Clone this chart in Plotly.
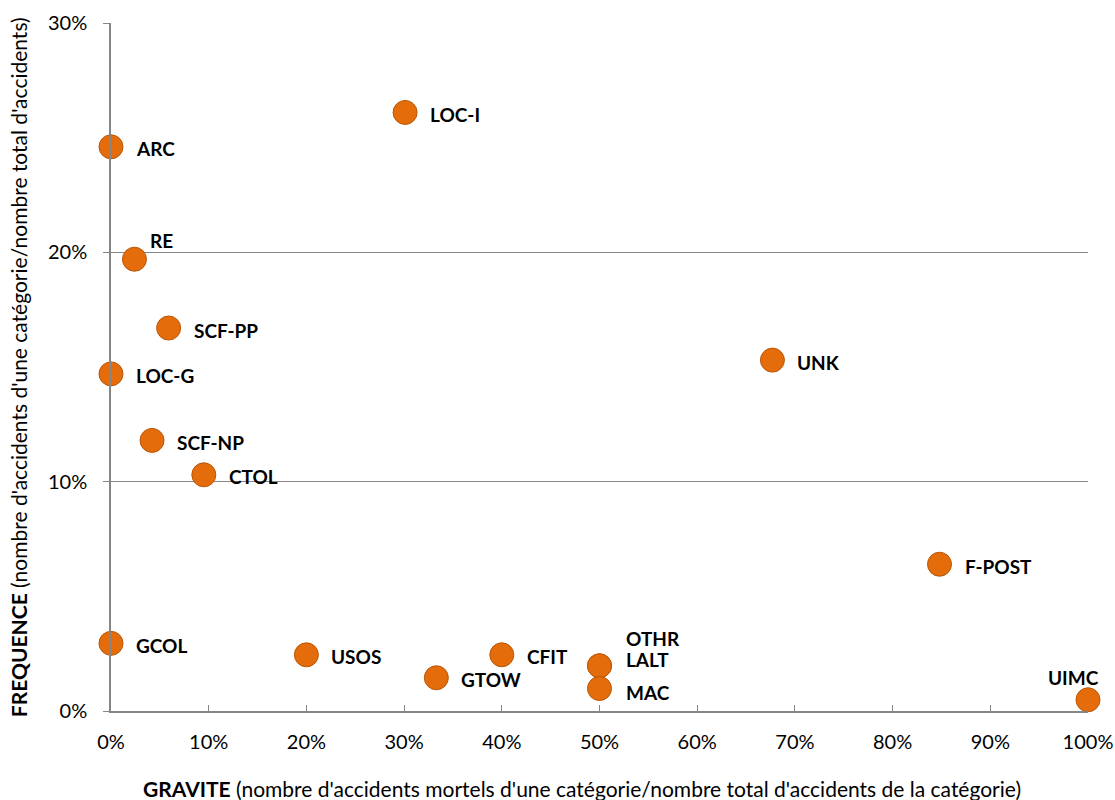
import plotly.graph_objects as go

categories = ["LOC-I", "ARC", "RE", "SCF-PP", "LOC-G", "SCF-NP", "CTOL", "UNK",
              "F-POST", "GCOL", "USOS", "GTOW", "CFIT", "OTHR", "LALT", "MAC", "UIMC"]
gravite = [30.1, 0.0, 2.4, 5.9, 0.0, 4.2, 9.5, 67.7,
           84.8, 0.0, 20.0, 33.3, 40.0, 50.0, 50.0, 50.0, 100.0]
frequence = [26.1, 24.6, 19.7, 16.7, 14.7, 11.8, 10.3, 15.3,
             6.4, 2.95, 2.45, 1.45, 2.45, 1.97, 1.97, 0.98, 0.49]

# label offsets in pixels (style only)
default_off = (23, -2, "left")
label_off = {
    "RE": (14, 19, "left"),
    "UIMC": (-15, 22, "center"),
    "OTHR": (24, 27, "left"),
    "LALT": (24, 6, "left"),
    "MAC": (24, -4, "left"),
}

FONT = "Lato, Carlito, 'DejaVu Sans', sans-serif"

fig = go.Figure()
fig.add_trace(go.Scatter(
    x=gravite, y=frequence, mode="markers",
    marker=dict(size=24, color="#E46C0A", line=dict(color="#B85607", width=1)),
    hoverinfo="text", text=categories, showlegend=False, cliponaxis=False,
))

annotations = []
for c, gx, fy in zip(categories, gravite, frequence):
    dx, dy, anc = label_off.get(c, default_off)
    annotations.append(dict(
        x=gx, y=fy, xref="x", yref="y", text=f"<b>{c}</b>", showarrow=False,
        xanchor=anc, yanchor="middle", xshift=dx, yshift=dy,
        font=dict(family=FONT, size=19, color="#000000"),
    ))

annotations.append(dict(
    x=0.482, y=-0.113, xref="paper", yref="paper", xanchor="center", yanchor="middle",
    showarrow=False,
    text="<b>GRAVITE</b> (nombre d'accidents mortels d'une catégorie/nombre total d'accidents de la catégorie)",
    font=dict(family=FONT, size=21, color="#000000"),
))
annotations.append(dict(
    x=-0.095, y=0.5, xref="paper", yref="paper", xanchor="center", yanchor="middle",
    showarrow=False, textangle=-90,
    text="<b>FREQUENCE</b> (nombre d'accidents d'une catégorie/nombre total d'accidents)",
    font=dict(family=FONT, size=21, color="#000000"),
))

fig.update_layout(
    width=1115, height=800,
    margin=dict(l=111, r=27, t=23, b=89),
    plot_bgcolor="white", paper_bgcolor="white",
    font=dict(family=FONT, size=20, color="#000000"),
    annotations=annotations,
    xaxis=dict(
        range=[0, 100], tickvals=[0, 10, 20, 30, 40, 50, 60, 70, 80, 90, 100],
        ticktext=[f"{v}%" for v in range(0, 101, 10)],
        showgrid=False, zeroline=False, showline=True, linecolor="#868686", linewidth=1.5,
        ticks="inside", ticklen=6, tickcolor="#868686", tickfont=dict(size=20),
        ticklabelstandoff=12, automargin=False,
    ),
    yaxis=dict(
        range=[0, 30], tickvals=[0, 10, 20, 30],
        ticktext=["0%", "10%", "20%", "30%"],
        showgrid=True, gridcolor="#868686", gridwidth=1, zeroline=False,
        showline=True, linecolor="#868686", linewidth=1.5,
        ticks="outside", ticklen=6, tickcolor="#868686", tickfont=dict(size=20),
        ticklabelstandoff=12, automargin=False,
    ),
)

fig.write_html("out.html")
